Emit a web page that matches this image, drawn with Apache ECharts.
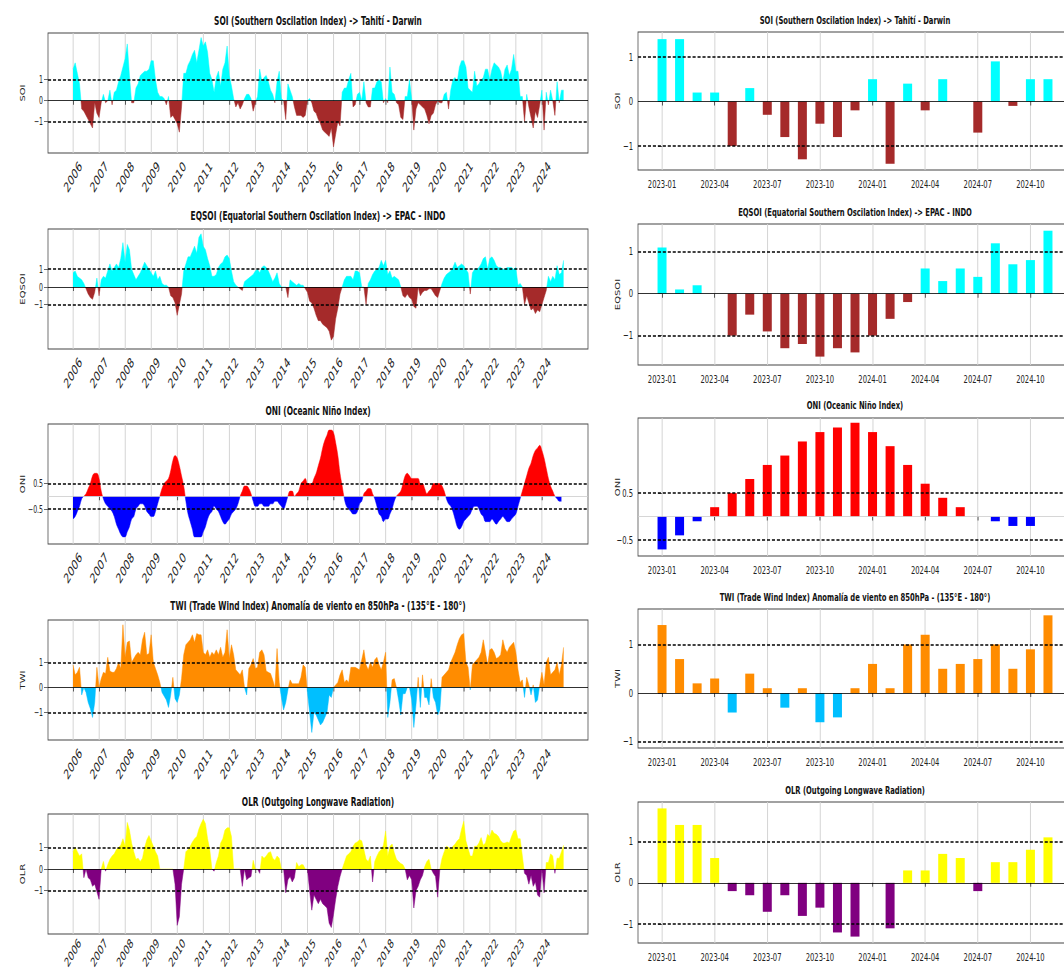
<!DOCTYPE html>
<html>
<head>
<meta charset="utf-8">
<script src="https://cdn.jsdelivr.net/npm/echarts@6/dist/echarts.min.js"></script>
<style>
html, body { margin: 0; padding: 0; background: #fff; overflow: hidden; }
#wrap { width: 1064px; height: 971px; overflow: hidden; }
#main { height: 971px; transform-origin: 0 0; }
</style>
</head>
<body>
<div id="wrap"><div id="main"></div></div>
<script>
// valores mensuales desde 2006-01
var soi = [
  1.5, 1.8, 1.3, 0.8, -0.4, -0.5, -0.7, -0.9, -1.1, -1.3, -0.1, -0.6,   // 2006
  -0.8, -0.1, 0.3, -0.1, 0.0, 0.5, -0.2, 0.4, 0.5, 0.9, 1.2, 1.6,       // 2007
  2.0, 2.7, 1.2, -0.1, -0.1, 0.6, 0.8, 1.2, 1.3, 1.4, 1.4, 1.5,         // 2008
  1.9, 1.9, 1.0, 0.4, 0.2, 0.2, 0.1, -0.2, 0.2, -0.8, -0.7, -0.9,       // 2009
  -1.1, -1.5, -0.3, 1.3, 1.3, 1.7, 1.9, 2.2, 2.4, 1.8, 2.4, 3.0,        // 2010
  2.6, 2.8, 2.3, 1.3, 1.0, 0.4, 1.1, 1.4, 0.7, 1.5, 1.8, 2.6,           // 2011
  1.2, 0.7, 0.1, -0.3, -0.1, -0.4, -0.2, 0.1, 0.3, 0.3, 0.1, -0.5,      // 2012
  -0.1, 0.2, 1.5, 0.9, 1.1, 1.2, 0.9, 0.5, 0.3, -0.1, 0.9, 1.4,         // 2013
  0.1, 0.0, -0.9, 0.8, 0.5, 0.2, -0.3, -0.7, -0.7, -0.7, -0.8, -0.7,    // 2014
  0.0, 0.1, -0.1, -0.5, -0.6, -0.9, -1.1, -1.4, -1.5, -1.6, -1.7, -1.3, // 2015
  -2.2, -1.6, -1.0, -1.2, 0.4, 0.6, 0.6, 1.0, 1.3, -0.3, -0.2, 0.3,     // 2016
  0.4, 0.0, 0.9, -0.1, -0.3, -0.3, 0.6, 0.6, 0.9, 1.0, 0.9, -0.1,       // 2017
  0.1, -0.1, 1.6, 0.4, 0.3, -0.1, -0.2, -0.8, -0.9, 0.2, 0.2, 1.0,      // 2018
  0.1, -1.4, -0.4, -0.1, -0.2, -0.3, -0.4, -0.7, -1.1, -0.7, -0.6, -0.2, // 2019
  0.0, -0.1, -0.1, 0.3, 0.4, -0.4, 0.5, 1.0, 1.1, 0.9, 1.6, 1.9,        // 2020
  1.9, 1.6, 0.6, 0.5, 0.4, 1.4, 0.7, 0.8, 1.0, 1.1, 1.5, 1.5,           // 2021
  1.0, 1.5, 1.8, 1.7, 1.6, 1.4, 0.9, 1.5, 1.7, 1.2, 1.5, 2.2,           // 2022
  1.4, 1.4, 0.2, 0.2, -1.0, 0.3, -0.3, -0.8, -1.3, -0.5, -0.8, -0.2,    // 2023
  0.5, -1.4, 0.4, -0.2, 0.5, 0.0, -0.7, 0.9, -0.1, 0.5, 0.5             // 2024
];
var eqsoi = [
  0.8, 0.9, 0.6, 0.5, 0.4, 0.2, -0.1, -0.4, -0.6, -0.7, -0.3, 0.5,
  -0.5, 0.4, 0.6, 0.5, 0.9, 1.3, 0.9, 1.1, 1.3, 1.1, 1.6, 2.5,
  1.4, 2.4, 2.1, 1.0, 0.7, 0.4, 0.6, 0.8, 1.1, 1.4, 1.2, 1.0,
  0.8, 0.6, 0.9, 0.4, 0.6, 0.2, 0.1, 0.1, 0.0, -0.5, -0.6, -0.9,
  -1.6, -1.0, -0.4, 0.9, 1.3, 1.7, 1.7, 2.0, 2.3, 1.9, 2.8, 3.0,
  2.3, 2.1, 1.6, 1.2, 0.6, 0.6, 0.7, 1.1, 1.3, 1.4, 1.7, 1.8,
  1.6, 0.9, 0.3, 0.1, 0.0, -0.1, -0.2, 0.3, 0.4, 0.5, 0.6, 0.7,
  0.9, 1.0, 0.8, 1.1, 1.2, 1.1, 0.9, 0.6, 0.3, 0.5, 0.8, 0.2,
  0.0, 0.0, 0.0, -0.6, 0.4, 0.3, 0.2, 0.1, 0.2, 0.1, 0.1, -0.1,
  -0.3, -0.8, -0.9, -1.2, -1.6, -1.9, -1.9, -2.1, -2.2, -2.3, -2.5, -3.0,
  -2.8, -1.8, -1.2, -0.4, 0.0, 0.4, 0.6, 0.6, 0.6, 0.4, 0.9, 0.9,
  0.8, 0.0, 0.0, -1.0, 0.2, 0.4, 0.7, 0.9, 1.0, 1.1, 1.5, 1.2,
  1.5, 0.7, 0.9, 0.5, 0.6, 0.5, 0.4, 0.0, -0.5, -0.6, -0.4, -0.6,
  -0.7, -1.1, -1.2, 0.0, -0.5, -0.3, -0.2, -0.2, -0.1, -0.1, -0.3, -0.5,
  -0.6, -0.2, 0.2, 0.5, 0.7, 0.8, 0.9, 1.1, 1.4, 1.1, 1.2, 1.3,
  1.2, 1.0, 0.8, -0.4, 0.8, 1.0, 1.0, 1.1, 1.3, 1.6, 1.7, 1.0,
  1.6, 1.7, 1.5, 1.2, 1.1, 1.1, 1.0, 1.0, 1.1, 1.1, 1.1, 1.0,
  1.1, 0.1, 0.2, 0.0, -1.0, -0.5, -0.9, -1.3, -1.2, -1.5, -1.3, -1.4,
  -1.0, -0.6, -0.2, 0.6, 0.3, 0.6, 0.4, 1.2, 0.7, 0.8, 1.5
];
var oni = [
  -0.9, -0.8, -0.6, -0.4, -0.1, 0.0, 0.1, 0.3, 0.5, 0.8, 0.9, 0.9,
  0.7, 0.2, -0.1, -0.3, -0.4, -0.5, -0.6, -0.8, -1.1, -1.3, -1.5, -1.6,
  -1.6, -1.4, -1.2, -0.9, -0.8, -0.5, -0.4, -0.3, -0.3, -0.4, -0.6, -0.7,
  -0.8, -0.8, -0.6, -0.3, 0.0, 0.3, 0.5, 0.6, 0.7, 1.0, 1.4, 1.6,
  1.5, 1.2, 0.8, 0.4, -0.2, -0.7, -1.0, -1.3, -1.6, -1.6, -1.6, -1.6,
  -1.4, -1.2, -0.9, -0.7, -0.6, -0.4, -0.5, -0.6, -0.8, -1.0, -1.1, -1.0,
  -0.9, -0.7, -0.6, -0.5, -0.3, 0.0, 0.2, 0.4, 0.4, 0.3, 0.1, -0.2,
  -0.4, -0.4, -0.3, -0.3, -0.4, -0.4, -0.4, -0.3, -0.3, -0.2, -0.2, -0.3,
  -0.4, -0.5, -0.3, 0.0, 0.2, 0.2, 0.0, 0.1, 0.2, 0.5, 0.6, 0.7,
  0.5, 0.5, 0.5, 0.7, 0.9, 1.2, 1.5, 1.9, 2.2, 2.4, 2.6, 2.6,
  2.5, 2.1, 1.6, 0.9, 0.4, -0.1, -0.4, -0.5, -0.6, -0.7, -0.7, -0.6,
  -0.3, -0.2, 0.1, 0.2, 0.3, 0.3, 0.1, -0.1, -0.4, -0.7, -0.8, -1.0,
  -0.9, -0.9, -0.7, -0.5, -0.2, 0.0, 0.1, 0.2, 0.5, 0.8, 0.9, 0.8,
  0.7, 0.7, 0.7, 0.7, 0.5, 0.5, 0.3, 0.1, 0.2, 0.3, 0.5, 0.5,
  0.5, 0.5, 0.4, 0.2, -0.1, -0.3, -0.4, -0.6, -0.9, -1.2, -1.3, -1.2,
  -1.0, -0.9, -0.8, -0.7, -0.5, -0.4, -0.4, -0.5, -0.7, -0.8, -1.0, -1.0,
  -1.0, -0.9, -1.0, -1.1, -1.0, -0.9, -0.8, -0.9, -1.0, -1.0, -0.9, -0.8,
  -0.7, -0.4, -0.1, 0.2, 0.5, 0.8, 1.1, 1.3, 1.6, 1.8, 1.9, 2.0,
  1.8, 1.5, 1.1, 0.7, 0.4, 0.2, 0.0, -0.1, -0.2, -0.2
];
var twi = [
  0.9, 0.5, 0.6, 0.8, -0.3, 0.0, -0.2, -0.6, -0.85, -1.2, -0.6, 0.8,
  0.0, 0.35, 0.6, 0.55, 1.2, 0.65, 0.6, 0.6, 0.75, 1.0, 0.75, 2.5,
  1.2, 1.8, 1.85, 1.0, 1.15, 1.3, 1.4, 1.3, 1.9, 2.2, 1.3, 1.35,
  2.1, 1.0, 0.75, 0.5, 0.2, -0.2, -0.35, -0.5, -0.8, -0.3, 0.4, -0.45,
  -0.6, -0.3, 0.35, 1.3, 1.7, 1.8, 1.9, 2.1, 1.8, 2.15, 2.1, 2.1,
  1.4, 1.3, 1.5, 1.2, 1.4, 1.3, 1.5, 1.3, 1.6, 1.2, 1.4, 2.3,
  1.15, 1.7, 1.3, 0.7, 0.6, 0.5, 0.7, 0.0, -0.3, 0.75, 0.9, 1.15,
  0.75, 0.8, 1.4, 1.5, 1.3, 0.65, 0.6, 0.55, 0.3, 0.0, 1.55, 0.2,
  -0.4, -0.9, -0.6, -0.1, 0.3, 0.15, 0.15, 0.15, 0.15, 0.4, 0.9, 0.8,
  -0.2, -1.0, -1.8, -1.0, -1.1, -1.3, -1.5, -1.4, -1.2, -1.0, -0.3, -0.4,
  0.0, 0.1, 0.2, 0.5, 0.7, 0.2, 0.3, 0.2, 0.8, 0.8, 0.8, 0.75,
  0.7, 1.1, 1.5, 0.9, 0.7, 1.0, 0.8, 1.1, 1.2, 0.9, 0.7, 1.0,
  1.4, -1.2, -0.6, 0.3, 0.35, 0.0, -0.5, -1.1, -0.25, -0.25, 0.0, 0.0,
  -0.5, -1.6, -0.7, 0.4, -0.8, 0.5, -0.4, -0.4, -0.7, 0.35, -0.4, -0.6,
  -1.1, -0.9, 0.4, 0.5, 0.6, 0.7, 1.0, 1.2, 1.4, 1.7, 1.95, 2.1,
  2.15, 1.0, 0.8, -0.1, 0.9, 1.0, 1.1, 1.2, 1.4, 1.9, 1.4, 0.9,
  1.5, 1.55, 1.4, 1.15, 1.2, 1.3, 1.9, 1.55, 1.4, 1.6, 1.7, 1.8,
  1.4, 0.7, 0.2, 0.3, -0.4, 0.4, 0.1, -0.3, 0.1, -0.6, -0.5, 0.1,
  0.6, 0.1, 1.0, 1.2, 0.5, 0.6, 0.7, 1.0, 0.5, 0.9, 1.6
];
var olr = [
  0.8, 1.0, 0.8, 0.6, 0.7, -0.4, 0.0, -0.4, -0.5, -0.8, -0.7, -1.05,
  -1.4, 0.0, 0.35, -0.1, 0.2, 0.45, 0.6, 0.7, 0.9, 1.0, 1.1, 1.4,
  1.05, 2.15, 1.8, 1.2, 0.8, 0.45, 0.5, 0.35, 0.5, 1.0, 1.35, 1.55,
  1.3, 1.05, 0.8, 0.6, 0.0, 0.0, 0.0, 0.0, 0.0, 0.0, 0.0, -0.7,
  -2.6, -2.2, -0.7, 0.0, 0.8, 0.9, 1.05, 1.25, 1.4, 1.5, 1.85, 2.1,
  2.3, 2.1, 1.4, 0.9, 0.0, -0.1, 0.3, 0.6, 1.2, 1.4, 1.8, 1.9,
  1.9, 1.5, 0.0, 0.0, 0.0, 0.0, -0.8, 0.0, -0.5, -0.4, -0.35, 0.4,
  0.0, 0.0, -0.2, 0.6, 0.5, 0.6, 0.75, 0.8, 0.5, 0.4, 0.6, 0.5,
  0.0, 0.0, -1.1, -0.5, -0.35, -0.6, -0.4, 0.3, 0.1, 0.2, 0.2, 0.0,
  0.0, -1.0, -1.9, -1.2, -1.4, -1.6, -1.4, -1.6, -1.7, -1.8, -2.5, -2.7,
  -2.1, -1.4, -0.8, -0.35, 0.0, 0.3, 0.6, 0.7, 0.8, 1.05, 1.2, 1.25,
  1.35, 1.3, 0.9, 0.45, 0.35, 0.6, -0.6, 0.35, 0.6, 0.8, 0.9, 1.1,
  1.75, 0.6, 1.05, 1.15, 0.75, 0.45, 0.35, 0.25, 0.2, 0.0, -0.5, -0.3,
  -0.5, -1.8, -1.0, -0.8, -0.5, -0.3, 0.1, 0.35, 0.45, 0.0, -0.2, -0.35,
  -1.3, 0.0, 0.5, 0.8, 1.05, 1.0, 0.9, 1.05, 1.15, 1.3, 1.4, 1.85,
  2.2, 1.3, 0.95, 0.6, 0.6, 1.05, 1.05, 1.2, 1.45, 1.1, 1.2, 1.6,
  1.5, 1.8, 1.65, 1.6, 1.5, 1.3, 1.2, 1.2, 1.25, 1.2, 1.5, 1.75,
  1.8, 1.4, 1.4, 0.6, -0.2, -0.3, -0.7, -0.3, -0.8, -0.6, -1.2, -1.3,
  0.0, -1.1, 0.3, 0.3, 0.7, 0.6, -0.2, 0.5, 0.5, 0.8, 1.1
];

var startYear = 2006;
var yearTicks = [2006, 2007, 2008, 2009, 2010, 2011, 2012, 2013, 2014, 2015,
                 2016, 2017, 2018, 2019, 2020, 2021, 2022, 2023, 2024];
var recentFrom = (2023 - startYear) * 12;   // 2023-01
var monthTicks = [0, 3, 6, 9, 12, 15, 18, 21];

var titles = [
  'SOI (Southern Oscilation Index) -> Tahití - Darwin',
  'EQSOI (Equatorial Southern Oscilation Index) -> EPAC - INDO',
  'ONI (Oceanic Niño Index)',
  'TWI (Trade Wind Index) Anomalía de viento en 850hPa - (135°E - 180°)',
  'OLR (Outgoing Longwave Radiation)'
];
var names = ['SOI', 'EQSOI', 'ONI', 'TWI', 'OLR'];
var series_data = [soi, eqsoi, oni, twi, olr];

var posColor = ['#00ffff', '#00ffff', '#ff0000', '#ff8c00', '#ffff00'];
var negColor = ['#a52a2a', '#a52a2a', '#0000ff', '#00bfff', '#800080'];

// rangos de los ejes
var leftRange  = [[-2.49, 3.22], [-3.5, 3.27], [-1.88, 2.84], [-2.1, 2.69], [-3.0, 2.54]];
var rightRange = [[-1.54, 1.56], [-1.7, 1.66], [-0.84, 2.1], [-1.13, 1.73], [-1.455, 1.955]];
var refLevel = [1, 1, 0.5, 1, 1];

var leftTop  = [33, 229, 424, 620, 814];
var rightTop = [32, 224, 418, 609, 802];
var rightH   = [138, 141, 138, 139, 141];
var leftTitleY  = [20, 215, 410, 605, 801];
var rightTitleY = [20, 212, 405, 597, 790];

// la figura original está comprimida en horizontal
var S = 0.62;
function X(px) { return px / S; }

var FONT = "'DejaVu Sans', sans-serif";

function fmtNum(v) { return String(v).replace('-', '\u2212'); }
function fmtYear(v) { return String(v); }
function monthLabel(i) {
  var y = 2023 + Math.floor(i / 12);
  var m = i % 12 + 1;
  return y + '-' + (m < 10 ? '0' : '') + m;
}

var dom = document.getElementById('main');
dom.style.width = Math.ceil(X(1064)) + 'px';
dom.style.transform = 'scaleX(' + S + ')';
var myChart = echarts.init(dom, null, { renderer: 'svg' });

var option = {
  animation: false,
  backgroundColor: '#fff',
  textStyle: { fontFamily: FONT },
  title: [],
  grid: [],
  xAxis: [],
  yAxis: [],
  series: []
};

function refLines(k) {
  var r = refLevel[k];
  var dash = { type: [5, 3], color: '#000', width: 1.6 };
  var zero = k == 2 ? { type: 'solid', color: '#cccccc', width: 1 } : { type: 'solid', color: '#000', width: 1 };
  return {
    symbol: 'none',
    silent: true,
    label: { show: false },
    data: [
      { yAxis: 0, lineStyle: zero },
      { yAxis: r, lineStyle: dash },
      { yAxis: -r, lineStyle: dash }
    ]
  };
}

// relleno de dos colores partido en el cero
function splitFill(k, top, h, range) {
  var y0 = top + h * range[1] / (range[1] - range[0]);
  return {
    type: 'linear', x: 0, y: y0 - 0.5, x2: 0, y2: y0 + 0.5, global: true,
    colorStops: [
      { offset: 0, color: posColor[k] }, { offset: 0.5, color: posColor[k] },
      { offset: 0.5, color: negColor[k] }, { offset: 1, color: negColor[k] }
    ]
  };
}
function barColor(k) {
  return function (p) { return p.value[1] >= 0 ? posColor[k] : negColor[k]; };
}

for (var k = 0; k < 5; k++) {
  var yTicks = k == 2 ? [-0.5, 0.5] : [-1, 0, 1];

  // panel izquierdo: serie completa
  option.title.push({
    text: titles[k], left: X(318), top: leftTitleY[k] - 5, textAlign: 'center', padding: 0,
    textStyle: { fontSize: 12, fontWeight: 'bold', color: '#111', fontFamily: FONT }
  });
  option.grid.push({
    left: X(48), top: leftTop[k], width: X(540), height: 120, outerBoundsMode: 'none',
    show: true, borderColor: '#444', borderWidth: 1.2, backgroundColor: 'transparent'
  });
  option.xAxis.push({
    type: 'value', gridIndex: k * 2, min: 2005.04, max: 2025.77,
    axisLine: { show: false },
    axisTick: { show: true, customValues: yearTicks, length: 4, lineStyle: { color: '#444', width: 1.4 } },
    axisLabel: {
      customValues: yearTicks, formatter: fmtYear, rotate: 48, align: 'center', verticalAlign: 'middle',
      fontSize: k == 4 ? 13 : 14, color: '#222', margin: k == 4 ? 19 : 24, fontFamily: FONT
    },
    splitLine: { show: true, lineStyle: { color: '#d4d4d4', width: 1.6 } }
  });
  option.yAxis.push({
    type: 'value', gridIndex: k * 2, min: leftRange[k][0], max: leftRange[k][1],
    name: names[k], nameLocation: 'middle', nameGap: X(22), nameRotate: 90, nameMoveOverlap: false,
    nameTextStyle: { fontSize: 10, color: '#222', fontFamily: FONT },
    axisLine: { show: false },
    axisTick: { show: true, customValues: yTicks, length: X(4), lineStyle: { color: '#444' } },
    axisLabel: { customValues: yTicks, fontSize: 10, color: '#222', margin: X(5), formatter: fmtNum },
    splitLine: { show: false }
  });

  // panel derecho: desde 2023-01
  option.title.push({
    text: titles[k], left: X(855), top: rightTitleY[k] - 5, textAlign: 'center', padding: 0,
    textStyle: { fontSize: 11, fontWeight: 'bold', color: '#111', fontFamily: FONT }
  });
  option.grid.push({
    left: X(638), top: rightTop[k], width: X(434), height: rightH[k], outerBoundsMode: 'none',
    show: true, borderColor: '#444', borderWidth: 1.2, backgroundColor: 'transparent'
  });
  option.xAxis.push({
    type: 'value', gridIndex: k * 2 + 1, min: -1.37, max: 23.37,
    axisLine: { show: false },
    axisTick: { show: true, customValues: monthTicks, length: 4, lineStyle: { color: '#444', width: 1.4 } },
    axisLabel: { customValues: monthTicks, fontSize: 11, color: '#222', margin: 9, formatter: monthLabel },
    splitLine: { show: true, lineStyle: { color: '#d4d4d4', width: 1.6 } }
  });
  option.yAxis.push({
    type: 'value', gridIndex: k * 2 + 1, min: rightRange[k][0], max: rightRange[k][1],
    name: names[k], nameLocation: 'middle', nameGap: X(17), nameRotate: 90, nameMoveOverlap: false,
    nameTextStyle: { fontSize: 10, color: '#222', fontFamily: FONT },
    axisLine: { show: false },
    axisTick: { show: true, customValues: yTicks, length: X(4), lineStyle: { color: '#444' } },
    axisLabel: { customValues: yTicks, fontSize: 11, color: '#222', margin: X(5), formatter: fmtNum },
    splitLine: { show: false }
  });

  var arr = series_data[k];
  var fillL = splitFill(k, leftTop[k], 120, leftRange[k]);
  option.series.push({
    name: names[k],
    type: 'line',
    xAxisIndex: k * 2, yAxisIndex: k * 2,
    data: arr.map(function (v, i) { return [startYear + i / 12, v]; }),
    showSymbol: false,
    smooth: k == 2 ? 0.4 : false,
    lineStyle: { width: 0.6, color: fillL },
    areaStyle: { opacity: 1, color: fillL },
    markLine: refLines(k),
    z: 2
  });
  option.series.push({
    name: names[k] + ' reciente',
    type: 'bar',
    xAxisIndex: k * 2 + 1, yAxisIndex: k * 2 + 1,
    data: arr.slice(recentFrom).map(function (v, i) { return [i, v]; }),
    barWidth: X(9),
    itemStyle: { color: barColor(k) },
    markLine: refLines(k),
    z: 2
  });
}

myChart.setOption(option);
</script>
</body>
</html>
